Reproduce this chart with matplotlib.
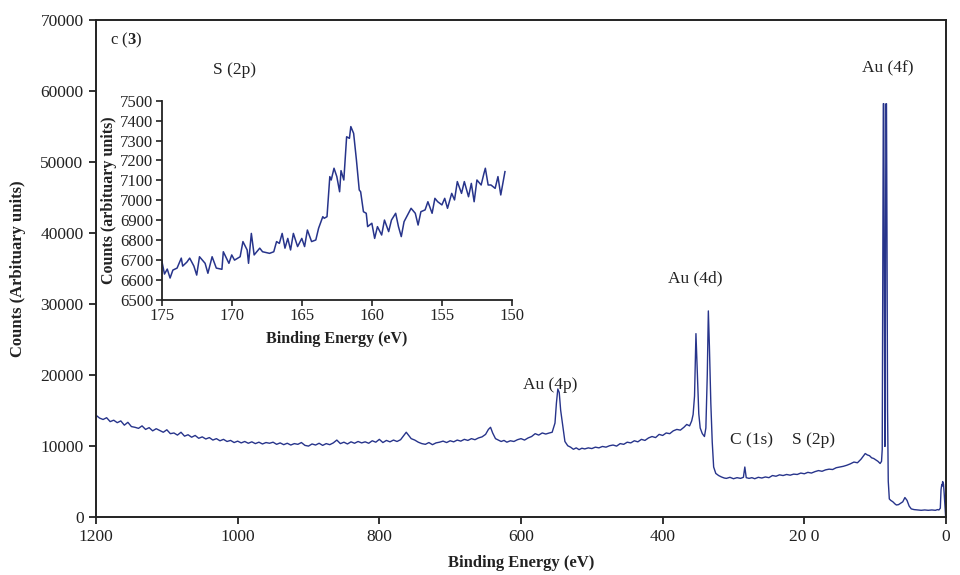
import matplotlib
matplotlib.use("Agg")
import matplotlib.pyplot as plt

plt.rcParams["font.family"] = ["Liberation Serif", "DejaVu Serif"]
plt.rcParams["mathtext.fontset"] = "custom"
plt.rcParams["mathtext.rm"] = "Liberation Serif"
plt.rcParams["mathtext.bf"] = "Liberation Serif:bold"

LINE = "#27348B"
INK = "#222222"

# survey spectrum: binding energy (eV) and counts
energy = [
    1200, 1195, 1190, 1185, 1180, 1175, 1170, 1165, 1160, 1155, 1150, 1145, 1140, 1135, 1130,
    1125, 1120, 1115, 1110, 1105, 1100, 1095, 1090, 1085, 1080, 1075, 1070, 1065, 1060, 1055,
    1050, 1045, 1040, 1035, 1030, 1025, 1020, 1015, 1010, 1005, 1000, 995, 990, 985, 980,
    975, 970, 965, 960, 955, 950, 945, 940, 935, 930, 925, 920, 915, 910, 905,
    900, 895, 890, 885, 880, 875, 870, 865, 860, 855, 850, 845, 840, 835, 830,
    825, 820, 815, 810, 805, 800, 795, 790, 785, 780, 775, 770, 765, 762, 758,
    755, 750, 745, 740, 735, 730, 725, 720, 715, 710, 705, 700, 695, 690, 685,
    680, 675, 670, 665, 660, 655, 650, 646, 643, 640, 636, 632, 628, 624, 620,
    615, 610, 605, 600, 595, 590, 585, 580, 575, 570, 565, 560, 556, 552, 550,
    548, 546, 544, 541, 538, 534, 530, 526, 522, 518, 514, 510, 505, 500, 495,
    490, 485, 480, 475, 470, 465, 460, 455, 450, 445, 440, 435, 430, 425, 420,
    415, 410, 405, 400, 395, 390, 385, 380, 375, 370, 366, 362, 359, 357, 355,
    353, 351, 349, 347, 344, 341, 339, 337, 335.5, 334, 332, 330, 328, 325, 321,
    317, 313, 310, 305, 300, 295, 290, 286, 284, 282, 278, 274, 270, 265, 260,
    255, 250, 245, 240, 235, 230, 225, 220, 215, 210, 205, 200, 195, 190, 185,
    180, 175, 170, 165, 160, 155, 150, 145, 140, 135, 130, 125, 120, 117, 114,
    111, 108, 105, 102, 99, 96, 93, 91, 90, 89, 88.5, 87.8, 87, 86.2, 85.5,
    84.8, 84, 83.3, 82.5, 81.5, 80, 78, 75, 72, 70, 67, 64, 61, 58, 55,
    52, 49, 45, 40, 35, 30, 25, 20, 15, 12, 10, 8, 7, 6, 5.5,
    4.7, 3.5, 2.5, 1.5, 0.5,
]
counts = [
    14300, 13900, 13700, 13950, 13400, 13600, 13250, 13500, 12900, 13300, 12700, 12600, 12450, 12800, 12300,
    12550, 12100, 12400, 12150, 11900, 12250, 11700, 11800, 11500, 11900, 11350, 11550, 11200, 11450, 11050,
    11250, 10950, 11150, 10800, 11000, 10700, 10900, 10600, 10750, 10450, 10650, 10400, 10600, 10350, 10550,
    10300, 10500, 10250, 10450, 10350, 10500, 10200, 10400, 10150, 10350, 10100, 10300, 10200, 10450, 10050,
    9950, 10250, 10100, 10350, 10050, 10300, 10150, 10400, 10800, 10300, 10500, 10250, 10550, 10350, 10600,
    10400, 10550, 10350, 10700, 10500, 10900, 10450, 10750, 10550, 10800, 10600, 10850, 11500, 11900, 11400,
    11000, 10800, 10500, 10300, 10200, 10450, 10150, 10400, 10500, 10650, 10450, 10700, 10550, 10800, 10650,
    10900, 10750, 11000, 10850, 11100, 11250, 11600, 12300, 12600, 11800, 11000, 10800, 10600, 10750, 10500,
    10700, 10600, 10850, 11000, 10800, 11100, 11300, 11700, 11500, 11800, 11650, 11800, 11900, 13200, 16000,
    18000, 17500, 15000, 12800, 10600, 10000, 9800, 9500, 9700, 9450, 9650, 9550, 9700, 9600, 9800,
    9700, 9900, 9800, 10000, 10100, 9950, 10300, 10200, 10500, 10400, 10700, 10550, 10900, 10750, 11100,
    11300, 11150, 11600, 11450, 11800, 11700, 12100, 12300, 12200, 12600, 13000, 12800, 13500, 14400, 17000,
    25800, 20000, 14500, 12500, 11700, 11300, 12500, 20000, 29000, 24000, 16000, 10500, 7000, 6100, 5800,
    5600, 5450, 5400, 5550, 5350, 5500, 5400, 5550, 7000, 5500, 5400, 5500, 5350, 5550, 5450,
    5600, 5500, 5800, 5700, 5900, 5800, 5950, 5850, 6000, 5950, 6150, 6050, 6250, 6150, 6350,
    6500, 6400, 6600, 6700, 6650, 6900, 7000, 7100, 7250, 7450, 7700, 7600, 8100, 8500, 8900,
    8700, 8600, 8300, 8200, 8000, 7800, 7500, 7800, 9500, 40000, 58200, 58200, 30000, 9900, 30000,
    58200, 58200, 40000, 15000, 5000, 2500, 2300, 2100, 1800, 1650, 1700, 1900, 2100, 2700, 2300,
    1500, 1100, 1000, 950, 900, 950, 900, 950, 900, 1000, 950, 1200, 3800, 4500, 4300,
    4950, 4600, 3200, 1500, 0,
]

# S 2p region (inset)
s2p_energy = [
    175.0, 174.8, 174.6, 174.4, 174.2, 173.9, 173.6, 173.5, 173.2, 173.0, 172.7, 172.5, 172.3, 171.9, 171.7,
    171.4, 171.1, 170.7, 170.6, 170.2, 170.0, 169.8, 169.4, 169.2, 168.9, 168.8, 168.6, 168.4, 168.0, 167.8,
    167.3, 167.0, 166.8, 166.6, 166.4, 166.2, 166.0, 165.8, 165.6, 165.3, 165.0, 164.8, 164.6, 164.3, 164.0,
    163.8, 163.5, 163.4, 163.2, 163.0, 162.9, 162.7, 162.5, 162.3, 162.2, 162.0, 161.8, 161.6, 161.5, 161.3,
    161.1, 160.9, 160.8, 160.6, 160.4, 160.3, 160.0, 159.8, 159.6, 159.3, 159.1, 158.8, 158.6, 158.3, 158.1,
    157.9, 157.7, 157.2, 156.9, 156.7, 156.5, 156.2, 156.0, 155.7, 155.5, 155.3, 155.0, 154.8, 154.6, 154.3,
    154.1, 153.9, 153.6, 153.4, 153.1, 152.9, 152.7, 152.5, 152.2, 152.0, 151.9, 151.7, 151.5, 151.2, 151.0,
    150.8, 150.5,
]
s2p_counts = [
    6700, 6630, 6655, 6610, 6650, 6660, 6710, 6670, 6690, 6710, 6670, 6625, 6717, 6684, 6634,
    6717, 6660, 6654, 6742, 6684, 6726, 6700, 6717, 6793, 6751, 6684, 6834, 6726, 6760, 6742,
    6734, 6742, 6793, 6784, 6834, 6760, 6809, 6751, 6834, 6768, 6809, 6768, 6851, 6793, 6801,
    6860, 6918, 6910, 6918, 7119, 7102, 7161, 7119, 7043, 7149, 7102, 7319, 7311, 7370, 7336,
    7202, 7052, 7043, 6943, 6935, 6868, 6885, 6809, 6868, 6826, 6901, 6843, 6901, 6935, 6868,
    6818, 6893, 6960, 6935, 6876, 6943, 6952, 6993, 6935, 7010, 6993, 6977, 7010, 6960, 7035,
    7002, 7094, 7035, 7094, 7018, 7085, 6993, 7102, 7077, 7135, 7161, 7077, 7077, 7060, 7119,
    7027, 7144,
]

main_xticks = [1200, 1000, 800, 600, 400, 200, 0]
main_xticklabels = ["1200", "1000", "800", "600", "400", "20 0", "0"]
main_yticks = [0, 10000, 20000, 30000, 40000, 50000, 60000, 70000]
inset_xticks = [175, 170, 165, 160, 155, 150]
inset_yticks = [6500, 6600, 6700, 6800, 6900, 7000, 7100, 7200, 7300, 7400, 7500]

peak_labels = [
    ("S (2p)", 1035, 62900),
    ("Au (4f)", 119, 63150),
    ("Au (4d)", 392, 33600),
    ("Au (4p)", 597, 18540),
    ("C (1s)", 305, 10800),
    ("S (2p)", 217, 10800),
]

fig = plt.figure(figsize=(9.6, 5.75), dpi=100)
ax = fig.add_axes([0.1, 0.1014, 0.8854, 0.8638])
ax.plot(energy, counts, color=LINE, lw=1.0)
ax.set_xlim(1200, 0)
ax.set_ylim(0, 70000)
ax.set_xticks(main_xticks)
ax.set_xticklabels(main_xticklabels)
ax.set_yticks(main_yticks)
ax.tick_params(direction="out", length=5, width=1.3, labelsize=12.5, colors=INK, pad=4)
for s in ax.spines.values():
    s.set_linewidth(1.4)
    s.set_color(INK)
ax.set_xlabel("Binding Energy (eV)", fontsize=12, fontweight="bold", color=INK, labelpad=7)
ax.set_ylabel("Counts (Arbituary units)", fontsize=12, fontweight="bold", color=INK, labelpad=10)

ax.text(1180, 67100, r"c ($\mathbf{3}$)", fontsize=12, color=INK, ha="left", va="center")
for txt, x, y in peak_labels:
    ax.text(x, y, txt, fontsize=12.5, color=INK, ha="left", va="center")

ins = fig.add_axes([0.1684, 0.4783, 0.3649, 0.3466])
ins.plot(s2p_energy, s2p_counts, color=LINE, lw=1.1)
ins.set_xlim(175, 150)
ins.set_ylim(6500, 7500)
ins.set_xticks(inset_xticks)
ins.set_yticks(inset_yticks)
ins.spines["top"].set_visible(False)
ins.spines["right"].set_visible(False)
for s in ("left", "bottom"):
    ins.spines[s].set_linewidth(1.3)
    ins.spines[s].set_color(INK)
ins.tick_params(direction="out", length=4, width=1.2, labelsize=12, colors=INK, pad=2)
ins.set_xlabel("Binding Energy (eV)", fontsize=11.5, fontweight="bold", color=INK, labelpad=5)
ins.set_ylabel("Counts (arbituary units)", fontsize=11.5, fontweight="bold", color=INK, labelpad=2)
ins.patch.set_alpha(0)

fig.savefig("out.png", dpi=100)
